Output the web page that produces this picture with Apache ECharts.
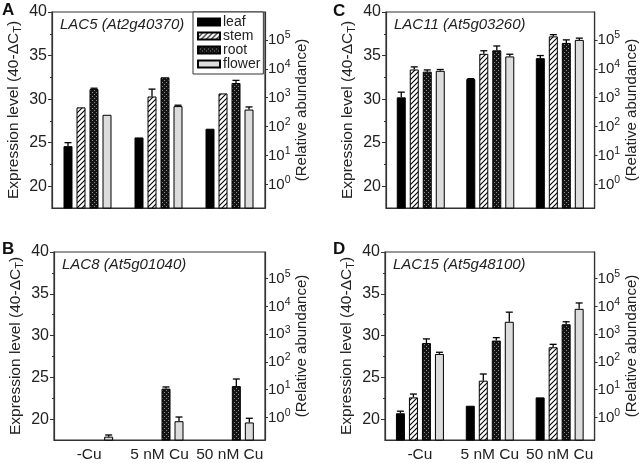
<!DOCTYPE html>
<html>
<head>
<meta charset="utf-8">
<script src="https://cdn.jsdelivr.net/npm/echarts@6/dist/echarts.min.js"></script>
<style>
html,body{margin:0;padding:0;background:#fff;}
#main{width:640px;height:463px;}
</style>
</head>
<body>
<div id="main"></div>
<script>
// ---- data ----
const categories = ['-Cu', '5 nM Cu', '50 nM Cu'];
const seriesNames = ['leaf', 'stem', 'root', 'flower'];
const leftTicks = [20, 25, 30, 35, 40];
const leftMinorTicks = [22.5, 27.5, 32.5, 37.5];
const rightTicks = [0, 1, 2, 3, 4, 5]; // exponents of 10

// Panel A: LAC5
const lac5Leaf = [24.6, 25.6, 26.6];
const lac5Stem = [29.05, 30.3, 30.65];
const lac5Root = [31.15, 32.5, 31.85];
const lac5Flower = [28.2, 29.2, 28.8];
const lac5LeafErr = [0.4, 0, 0];
const lac5StemErr = [0, 0.85, 0];
const lac5RootErr = [0.1, 0, 0.3];
const lac5FlowerErr = [0, 0.1, 0.3];

// Panel B: LAC8
const lac8Leaf = [null, null, null];
const lac8Stem = [null, null, null];
const lac8Root = [null, 23.65, 23.95];
const lac8Flower = [17.9, 19.75, 19.6];
const lac8LeafErr = [0, 0, 0];
const lac8StemErr = [0, 0, 0];
const lac8RootErr = [0, 0.2, 0.85];
const lac8FlowerErr = [0.2, 0.5, 0.5];

// Panel C: LAC11
const lac11Leaf = [30.2, 32.3, 34.7];
const lac11Stem = [33.4, 35.2, 37.2];
const lac11Root = [33.15, 35.6, 36.45];
const lac11Flower = [33.25, 34.9, 36.8];
const lac11LeafErr = [0.6, 0.05, 0.3];
const lac11StemErr = [0.3, 0.35, 0.2];
const lac11RootErr = [0.2, 0.5, 0.35];
const lac11FlowerErr = [0.15, 0.25, 0.2];

// Panel D: LAC15
const lac15Leaf = [20.7, 21.6, 22.6];
const lac15Stem = [22.6, 24.6, 28.6];
const lac15Root = [29.1, 29.4, 31.35];
const lac15Flower = [27.8, 31.65, 33.2];
const lac15LeafErr = [0.25, 0, 0];
const lac15StemErr = [0.4, 0.8, 0.35];
const lac15RootErr = [0.5, 0.35, 0.3];
const lac15FlowerErr = [0.2, 1.15, 0.7];

// ---- layout / style ----
const Y_MIN = 17.5, Y_MAX = 40;
const REF0 = 20.2, PER_DEC = 3.32; // left value at 10^0, left units per decade
const E_MIN = (Y_MIN - REF0) / PER_DEC, E_MAX = (Y_MAX - REF0) / PER_DEC;
const BW = 9, GAP = 4;
const FONT = 'Liberation Sans, Arial, sans-serif';

function makeCanvas(w, h, draw) {
  const c = document.createElement('canvas');
  c.width = w; c.height = h;
  draw(c.getContext('2d'));
  return c;
}
const stemPat = makeCanvas(5, 5, ctx => {
  ctx.fillStyle = '#fff'; ctx.fillRect(0, 0, 5, 5);
  ctx.strokeStyle = '#000'; ctx.lineWidth = 1.1;
  ctx.beginPath();
  ctx.moveTo(-1, 6); ctx.lineTo(6, -1);
  ctx.moveTo(-1, 1); ctx.lineTo(1, -1);
  ctx.moveTo(4, 6); ctx.lineTo(6, 4);
  ctx.stroke();
});
const rootPat = makeCanvas(4, 4, ctx => {
  ctx.fillStyle = '#151515'; ctx.fillRect(0, 0, 4, 4);
  ctx.fillStyle = '#8a8a8a';
  ctx.fillRect(0, 0, 1, 1); ctx.fillRect(2, 2, 1, 1);
});
const fills = [
  '#000',
  { image: stemPat, repeat: 'repeat' },
  { image: rootPat, repeat: 'repeat' },
  '#dcdcdc'
];

const panels = [
  { letter: 'A', title: 'LAC5 (At2g40370)', grid: { left: 52, top: 12, width: 213, height: 196 }, labels: false,
    vals: [lac5Leaf, lac5Stem, lac5Root, lac5Flower], errs: [lac5LeafErr, lac5StemErr, lac5RootErr, lac5FlowerErr],
    lx: 2, ly: 2 },
  { letter: 'B', title: 'LAC8 (At5g01040)', grid: { left: 54, top: 252, width: 211, height: 194 }, labels: true,
    vals: [lac8Leaf, lac8Stem, lac8Root, lac8Flower], errs: [lac8LeafErr, lac8StemErr, lac8RootErr, lac8FlowerErr],
    lx: 2, ly: 241 },
  { letter: 'C', title: 'LAC11 (At5g03260)', grid: { left: 386, top: 12, width: 211, height: 196 }, labels: false,
    vals: [lac11Leaf, lac11Stem, lac11Root, lac11Flower], errs: [lac11LeafErr, lac11StemErr, lac11RootErr, lac11FlowerErr],
    lx: 333, ly: 3 },
  { letter: 'D', title: 'LAC15 (At5g48100)', grid: { left: 385, top: 252, width: 215, height: 194 }, labels: true,
    vals: [lac15Leaf, lac15Stem, lac15Root, lac15Flower], errs: [lac15LeafErr, lac15StemErr, lac15RootErr, lac15FlowerErr],
    lx: 333, ly: 241 }
];

const grids = [], xAxes = [], yAxes = [], series = [], titles = [];
panels.forEach((p, g) => {
  grids.push(Object.assign({ show: true, borderColor: '#333', borderWidth: 1.2, backgroundColor: 'transparent' }, p.grid));
  xAxes.push({
    type: 'category', gridIndex: g, data: categories,
    axisLine: { onZero: false, lineStyle: { color: '#333', width: 1.2 } },
    axisTick: { alignWithLabel: true, length: 4, lineStyle: { color: '#333' } },
    axisLabel: { show: p.labels, interval: 0, hideOverlap: false, fontSize: 15.5, color: '#222', fontFamily: FONT, margin: 7 }
  });
  yAxes.push({
    type: 'value', gridIndex: g, min: Y_MIN, max: Y_MAX, position: 'left',
    axisLine: { show: true, onZero: false, lineStyle: { color: '#333', width: 1.2 } },
    axisTick: { show: true, length: 4, customValues: leftTicks, lineStyle: { color: '#333' } },
    axisLabel: { customValues: leftTicks, fontSize: 16, color: '#222', fontFamily: FONT, margin: 5 },
    splitLine: { show: false },
    name: 'Expression level (40-ΔC{sub|T})',
    nameLocation: 'middle', nameGap: 29, nameRotate: 90,
    nameTextStyle: { fontSize: 15.5, color: '#222', fontFamily: FONT,
      rich: { sub: { fontSize: 11, padding: [8, 0, 0, 0], color: '#222', fontFamily: FONT } } }
  });
  yAxes.push({
    type: 'value', gridIndex: g, min: E_MIN, max: E_MAX, position: 'right',
    axisLine: { show: true, onZero: false, lineStyle: { color: '#333', width: 1.2 } },
    axisTick: { show: true, length: 3, customValues: rightTicks, lineStyle: { color: '#333' } },
    axisLabel: { customValues: rightTicks, margin: 3, color: '#222', fontFamily: FONT,
      formatter: v => '{n|10}{s|' + v + '}',
      rich: { n: { fontSize: 15, color: '#222', fontFamily: FONT },
              s: { fontSize: 10.5, color: '#222', fontFamily: FONT, padding: [0, 0, 9, 0] } } },
    splitLine: { show: false },
    name: '(Relative abundance)',
    nameLocation: 'middle', nameGap: 28, nameRotate: 90,
    nameTextStyle: { fontSize: 15, color: '#222', fontFamily: FONT }
  });
  yAxes.push({
    type: 'value', gridIndex: g, min: Y_MIN, max: Y_MAX, position: 'left',
    axisLine: { show: false, onZero: false },
    axisTick: { show: true, length: 2, customValues: leftMinorTicks, lineStyle: { color: '#333' } },
    axisLabel: { show: false }, splitLine: { show: false }
  });
  p.vals.forEach((vals, k) => {
    series.push({
      type: 'bar', name: seriesNames[k], xAxisIndex: g, yAxisIndex: 3 * g,
      data: vals, barWidth: BW, barGap: (GAP / BW * 100) + '%', clip: true,
      itemStyle: { color: fills[k], borderColor: '#000', borderWidth: 1 },
      emphasis: { disabled: true }, animation: false
    });
  });
  p.vals.forEach((vals, k) => {
    const errs = p.errs[k];
    const data = [];
    vals.forEach((v, i) => { if (v != null) data.push([i, v, errs[i]]); });
    series.push({
      type: 'custom', xAxisIndex: g, yAxisIndex: 3 * g, data: data, z: 5, animation: false,
      renderItem: (params, api) => {
        const i = api.value(0), v = api.value(1), e = api.value(2);
        if (!e) return null;
        const p0 = api.coord([i, v]);
        const p1 = api.coord([i, v + e]);
        const x = p0[0] + (k - 1.5) * (BW + GAP);
        return { type: 'group', children: [
          { type: 'line', shape: { x1: x, y1: p0[1], x2: x, y2: p1[1] }, style: { stroke: '#000', lineWidth: 1.3 } },
          { type: 'line', shape: { x1: x - 3.5, y1: p1[1], x2: x + 3.5, y2: p1[1] }, style: { stroke: '#000', lineWidth: 1.3 } }
        ] };
      }
    });
  });
  titles.push({ text: p.title, left: p.grid.left + 8, top: p.grid.top + 5, padding: 0,
    textStyle: { fontSize: 15, fontStyle: 'italic', fontWeight: 'normal', color: '#222', fontFamily: FONT } });
  titles.push({ text: p.letter, left: p.lx, top: p.ly, padding: 0,
    textStyle: { fontSize: 17, fontWeight: 'bold', color: '#111', fontFamily: FONT } });
});

const chart = echarts.init(document.getElementById('main'), null, { renderer: 'canvas' });
chart.setOption({
  animation: false,
  title: titles,
  legend: {
    data: seriesNames, left: 193, top: 12, orient: 'vertical', icon: 'rect',
    itemWidth: 22, itemHeight: 7, itemGap: 0, padding: [3, 3, 3, 4],
    borderColor: '#333', borderWidth: 1, backgroundColor: '#fff',
    selectedMode: false,
    textStyle: { fontSize: 14, color: '#222', fontFamily: FONT, lineHeight: 12, padding: [0, 0, 0, -2] }
  },
  grid: grids, xAxis: xAxes, yAxis: yAxes, series: series
});
</script>
</body>
</html>
